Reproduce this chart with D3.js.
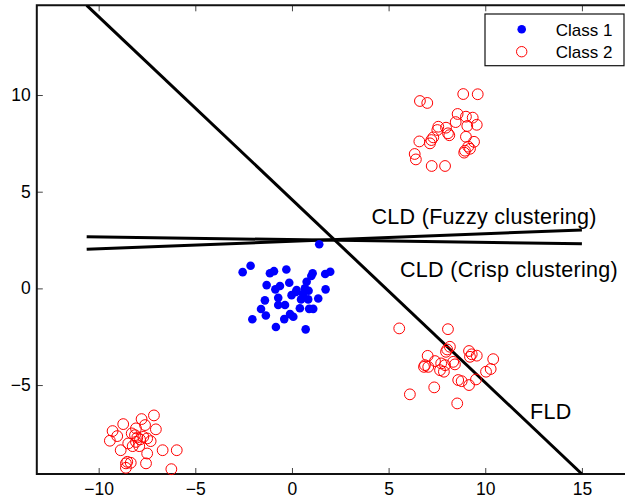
<!DOCTYPE html>
<html>
<head>
<meta charset="utf-8">
<script src="https://cdn.jsdelivr.net/npm/d3@7/dist/d3.min.js"></script>
<style>
  html, body { margin: 0; padding: 0; background: #fff; }
  svg { display: block; }
  text { font-family: "Liberation Sans", Arial, Helvetica, sans-serif; fill: #000; }
</style>
</head>
<body>
<svg id="chart" width="625" height="499"></svg>
<script>
// Class 1 samples (filled blue)
const class1X = [1.41, -2.55, -2.14, -1.14, -0.93, -0.29, 1.07, 1.00, 1.72, 1.98,
                 -1.31, -0.14, 0.76, -0.86, -0.62, 0.24, 0.67, 0.86, 1.74, -1.40,
                 -0.71, -0.02, 0.47, 0.84, 1.36, -1.60, -0.71, -0.36, 0.41, 0.89,
                 1.10, -1.35, -0.10, 0.07, -0.40, -2.05, -0.83, 0.71, 0.21, 0.58];
const class1Y = [2.28, 0.84, 1.17, 0.78, 0.89, 0.98, 0.78, 0.64, 0.74, 0.86,
                 0.17, 0.29, 0.34, -0.05, 0.12, -0.09, 0.00, -0.12, -0.05, -0.62,
                 -0.49, -0.35, -0.57, -0.57, -0.52, -1.07, -0.86, -0.86, -1.03, -1.06,
                 -1.06, -1.40, -1.33, -1.47, -1.59, -1.60, -2.00, -2.12, -0.18, -0.29];

// Class 2 samples (open red), three groups
const class2X = [
  // upper right group
  6.62, 7.00, 8.86, 9.61, 8.57, 8.47, 9.00, 9.35, 9.07, 9.56,
  7.57, 7.97, 7.52, 8.07, 8.14, 7.31, 7.21, 7.14, 6.59, 9.00,
  9.42, 9.12, 9.21, 8.95, 8.91, 6.35, 6.41, 7.23, 7.92,
  // lower right group
  5.55, 8.07, 8.17, 8.03, 7.97, 9.16, 9.30, 9.56, 9.21, 10.41,
  7.02, 6.88, 6.83, 7.05, 7.40, 7.72, 7.92, 7.66, 7.86, 8.34,
  8.43, 8.60, 8.78, 9.16, 9.52, 10.04, 10.28, 6.10, 7.36, 8.55,
  // lower left group
  -7.14, -7.78, -8.73, -7.04, -8.07, -7.60, -9.28, -9.04, -8.29, -8.12,
  -8.00, -7.86, -7.69, -7.49, -7.31, -9.42, -8.47, -8.07, -8.24, -7.90,
  -8.86, -7.49, -6.69, -5.96, -8.52, -8.59, -7.55, -8.59, -6.24, -8.34];
const class2Y = [
  9.69, 9.59, 10.05, 10.04, 9.02, 8.60, 8.88, 8.83, 8.40, 8.46,
  8.36, 8.31, 8.19, 8.02, 7.92, 7.81, 7.67, 7.50, 7.60, 7.84,
  7.58, 7.33, 7.22, 7.12, 7.02, 6.95, 6.67, 6.33, 6.33,
  -2.07, -2.11, -3.02, -3.16, -3.28, -3.24, -3.41, -3.48, -3.54, -3.66,
  -3.49, -3.97, -4.06, -4.06, -3.76, -3.88, -3.97, -4.23, -4.31, -3.80,
  -3.93, -4.74, -4.80, -5.00, -4.71, -4.31, -4.17, -5.48, -5.12, -5.95,
  -6.57, -6.76, -7.02, -7.29, -7.24, -7.07, -7.38, -7.64, -7.50, -7.59,
  -7.71, -7.81, -7.68, -7.76, -7.90, -7.88, -8.02, -7.94, -8.16, -8.16,
  -8.37, -8.54, -8.37, -8.37, -8.97, -9.05, -9.05, -9.28, -9.35, -9.02];

// Discriminant lines: [x0, x1] and [y0, y1]
const lineNames = ["FLD", "CLD (Fuzzy clustering)", "CLD (Crisp clustering)"];
const lineX = [[-10.62, 15.0], [-10.62, 15.0], [-10.62, 15.0]];
const lineY = [[14.64, -9.60], [2.02, 3.02], [2.67, 2.31]];

// Tick labels
const xTicks = [-10, -5, 0, 5, 10, 15];
const yTicks = [-5, 0, 5, 10];

const legendLabels = ["Class 1", "Class 2"];

const svg = d3.select("#chart");

const x = d3.scaleLinear().domain([-13.2, 18]).range([36.8, 639.9]);
const y = d3.scaleLinear().domain([-9.6, 14.64]).range([474, 5.3]);

const plotL = x(-13.2), plotR = x(18), plotT = y(14.64), plotB = y(-9.6);

svg.append("defs").append("clipPath").attr("id", "plotClip")
  .append("rect")
  .attr("x", plotL).attr("y", plotT)
  .attr("width", plotR - plotL).attr("height", plotB - plotT);

const fmt = d => (d < 0 ? "\u2212" + Math.abs(d) : String(d));

// Axes with inward ticks
const xAxis = svg.append("g")
  .attr("transform", `translate(0,${plotB})`)
  .call(d3.axisBottom(x).tickValues(xTicks).tickSize(-6).tickPadding(9).tickFormat(fmt));
const xAxisTop = svg.append("g")
  .attr("transform", `translate(0,${plotT})`)
  .call(d3.axisTop(x).tickValues(xTicks).tickSize(-6).tickFormat(""));
const yAxis = svg.append("g")
  .attr("transform", `translate(${plotL},0)`)
  .call(d3.axisLeft(y).tickValues(yTicks).tickSize(-6).tickPadding(6).tickFormat(fmt));

[xAxis, xAxisTop, yAxis].forEach(g => {
  g.select(".domain").remove();
  g.selectAll(".tick line").attr("stroke", "#444").attr("stroke-width", 1);
  g.selectAll(".tick text")
    .style("font-family", "'Liberation Sans', Arial, sans-serif")
    .style("font-size", "17.5px").attr("fill", "#000");
});

// Plot frame (left, top, bottom)
svg.append("path")
  .attr("d", `M${plotR},${plotT}H${plotL}V${plotB}H${plotR}`)
  .attr("fill", "none").attr("stroke", "#111").attr("stroke-width", 2);

// Discriminant lines
const lineGen = d3.line().x(d => x(d[0])).y(d => y(d[1]));
svg.append("g").attr("clip-path", "url(#plotClip)")
  .selectAll("path")
  .data(lineNames.map((n, i) => [[lineX[i][0], lineY[i][0]], [lineX[i][1], lineY[i][1]]]))
  .join("path")
  .attr("d", lineGen)
  .attr("fill", "none").attr("stroke", "#000").attr("stroke-width", 3);

// Class 1 points
svg.append("g").selectAll("circle")
  .data(class1X.map((v, i) => [v, class1Y[i]]))
  .join("circle")
  .attr("cx", d => x(d[0])).attr("cy", d => y(d[1]))
  .attr("r", 4.3).attr("fill", "#0000ff");

// Class 2 points
svg.append("g").selectAll("circle")
  .data(class2X.map((v, i) => [v, class2Y[i]]))
  .join("circle")
  .attr("cx", d => x(d[0])).attr("cy", d => y(d[1]))
  .attr("r", 5.4).attr("fill", "none").attr("stroke", "#ff0000").attr("stroke-width", 1);

// Line labels
const labelPos = [[530, 419], [371.5, 224], [400, 276.5]];
svg.append("g").selectAll("text")
  .data(lineNames)
  .join("text")
  .attr("x", (d, i) => labelPos[i][0]).attr("y", (d, i) => labelPos[i][1])
  .style("font-size", "21.5px")
  .style("letter-spacing", "0.3px")
  .text(d => d);

// Legend
const lg = svg.append("g");
lg.append("rect")
  .attr("x", 485).attr("y", 14).attr("width", 139).attr("height", 51.7)
  .attr("fill", "#fff").attr("stroke", "#111").attr("stroke-width", 1.2);
lg.append("circle").attr("cx", 521.7).attr("cy", 29.3).attr("r", 4.3).attr("fill", "#0000ff");
lg.append("circle").attr("cx", 521.7).attr("cy", 51.7).attr("r", 5.2)
  .attr("fill", "none").attr("stroke", "#ff0000").attr("stroke-width", 1);
lg.selectAll("text").data(legendLabels).join("text")
  .attr("x", 555.7).attr("y", (d, i) => 35.5 + i * 22.4)
  .style("font-size", "17px")
  .text(d => d);
</script>
</body>
</html>
